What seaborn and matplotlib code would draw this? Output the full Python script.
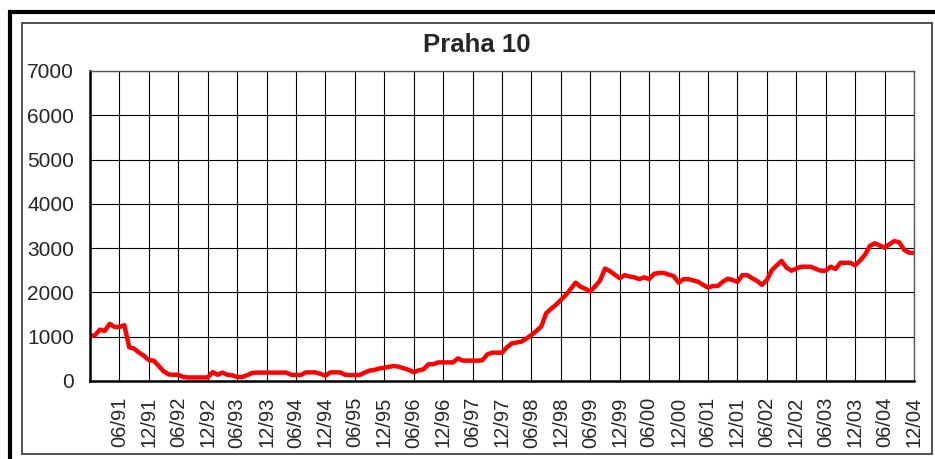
import matplotlib
matplotlib.use('Agg')
import matplotlib.pyplot as plt
import matplotlib.patches as patches
import pandas as pd
import seaborn as sns

# monthly values, 12/1990 .. 12/2004 (169 months)
values = [
    1020, 1030, 1160, 1130, 1290, 1220, 1220, 1260, 760, 730,
    640, 570, 470, 460, 340, 220, 150, 140, 140, 90,
    80, 80, 80, 80, 80, 200, 140, 190, 140, 130,
    90, 90, 130, 180, 190, 190, 190, 190, 190, 190,
    190, 140, 135, 135, 195, 195, 195, 160, 120, 195,
    195, 195, 140, 135, 135, 135, 190, 235, 250, 285,
    300, 320, 340, 320, 285, 250, 200, 240, 265, 375,
    380, 420, 420, 420, 420, 510, 460, 460, 460, 460,
    470, 600, 640, 640, 640, 760, 850, 870, 890, 960,
    1040, 1130, 1230, 1530, 1630, 1720, 1830, 1940, 2080, 2220,
    2130, 2080, 2020, 2140, 2270, 2540, 2480, 2400, 2320, 2390,
    2360, 2340, 2300, 2340, 2300, 2420, 2440, 2440, 2400, 2370,
    2220, 2300, 2300, 2270, 2240, 2170, 2110, 2145, 2145, 2240,
    2310, 2280, 2240, 2390, 2390, 2320, 2260, 2170, 2280, 2500,
    2610, 2710, 2560, 2490, 2540, 2580, 2580, 2580, 2530, 2490,
    2490, 2580, 2530, 2670, 2670, 2670, 2610, 2720, 2850, 3050,
    3110, 3060, 3010, 3090, 3160, 3130, 2960, 2900, 2890,
]
tick_labels = [
    '', '06/91', '12/91', '06/92', '12/92', '06/93', '12/93', '06/94', '12/94',
    '06/95', '12/95', '06/96', '12/96', '06/97', '12/97', '06/98', '12/98',
    '06/99', '12/99', '06/00', '12/00', '06/01', '12/01', '06/02', '12/02',
    '06/03', '12/03', '06/04', '12/04',
]

df = pd.DataFrame({'month': range(len(values)), 'value': values})

sns.set_style('white')
plt.rcParams['font.family'] = ['Liberation Sans', 'DejaVu Sans']

fig = plt.figure(figsize=(9.35, 4.59), dpi=100)
ax = fig.add_axes([90 / 935, 1 - 381 / 459, (914 - 90) / 935, (381 - 71) / 459])

sns.lineplot(data=df, x='month', y='value', color='#ff0000', linewidth=3.2, ax=ax)

ax.set_xlim(0, len(values) - 1)
ax.set_ylim(0, 7000)
ax.set_xticks(range(0, len(values), 6))
ax.set_xticklabels(tick_labels, rotation=90, fontsize=14.5)
ax.set_yticks(range(0, 7001, 1000))
ax.set_yticklabels([str(v) for v in range(0, 7001, 1000)], fontsize=15)
ax.set_xlabel('')
ax.set_ylabel('')
ax.grid(True, color='black', linewidth=0.8)
ax.tick_params(axis='both', direction='out', length=3.6, width=1, color='black', pad=8)
for side in ['left', 'bottom']:
    ax.spines[side].set_color('black')
    ax.spines[side].set_linewidth(1.8)
for side in ['top', 'right']:
    ax.spines[side].set_color('#555555')
    ax.spines[side].set_linewidth(1.0)

fig.text(477 / 935, 1 - 45 / 459, 'Praha 10', ha='center', va='center',
         fontsize=18.5, fontweight='bold')

# chart frames
fig.patches.append(patches.Rectangle((22 / 935, 1 - 454 / 459), (932 - 22) / 935, (454 - 23) / 459,
                                     transform=fig.transFigure, fill=False,
                                     edgecolor='#333333', linewidth=1.2))
fig.patches.append(patches.Rectangle((10 / 935, -0.2), 1.2, 1.2 - 11.5 / 459,
                                     transform=fig.transFigure, fill=False,
                                     edgecolor='black', linewidth=3.0))

fig.savefig('out.png', dpi=100)
